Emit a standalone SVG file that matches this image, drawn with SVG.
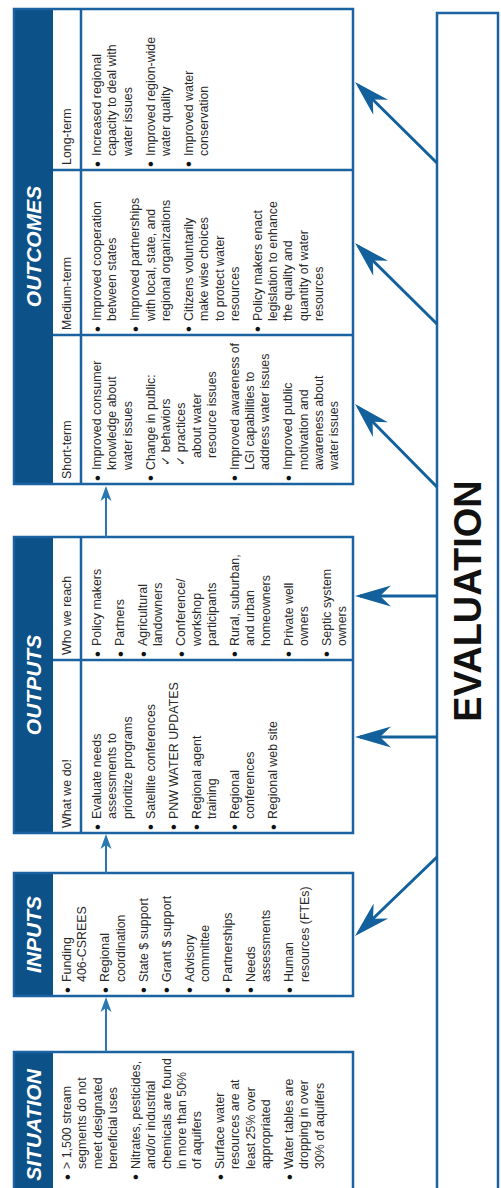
<svg xmlns="http://www.w3.org/2000/svg" width="501" height="1188" viewBox="0 0 501 1188">
<style>
.bg{fill:#fff;stroke:none}
.box{fill:none;stroke:#1a62a0;stroke-width:2.5}
.band{fill:#0d5189;stroke:none}
.dv{stroke:#1a62a0;stroke-width:2.5;fill:none}
.t{font-family:"Liberation Sans",Arial,"DejaVu Sans",sans-serif;font-size:12.4px;fill:#2a2a2a}
.b{font-size:17px;fill:#111}
.h{font-family:"Liberation Sans",Arial,sans-serif;font-size:21px;font-weight:bold;font-style:italic;fill:#fff}
.ev{font-family:"Liberation Sans",Arial,sans-serif;font-size:38px;font-weight:bold;fill:#111}
.big{stroke:#12609c;stroke-width:3;fill:none}
.sm{stroke:#2a78b0;stroke-width:2;fill:none}
</style>
<defs>
<marker id="ab" viewBox="-40 -12 42 24" refX="-5" refY="0" markerWidth="42" markerHeight="24" markerUnits="userSpaceOnUse" orient="auto"><path d="M0,0 L-36,-10.5 L-25,0 L-36,10.5 Z" fill="#12609c"/></marker>
<marker id="as" viewBox="-16 -6 18 12" refX="-3" refY="0" markerWidth="18" markerHeight="12" markerUnits="userSpaceOnUse" orient="auto"><path d="M0,0 L-15,-5.5 L-11,0 L-15,5.5 Z" fill="#2a78b0"/></marker>
</defs>
<rect width="501" height="1188" fill="#fff"/>

<g id="situation">
<rect class="bg" x="14" y="1052" width="339" height="146"/>
<rect class="band" x="14" y="1052" width="39" height="146"/>
<rect class="box" x="14" y="1052" width="339" height="146"/>
<g transform="translate(0,1183) rotate(-90)">
<text class="h" x="58" y="41" text-anchor="middle">SITUATION</text>
<g class="t">
<text class="b" x="3" y="72.5">•</text><text x="14" y="71">&gt; 1,500 stream</text>
<text x="14" y="86.3">segments do not</text>
<text x="14" y="101.6">meet designated</text>
<text x="14" y="116.9">beneficial uses</text>
<text class="b" x="3" y="141.4">•</text><text x="14" y="139.9">Nitrates, pesticides,</text>
<text x="14" y="155.2">and/or industrial</text>
<text x="14" y="170.5">chemicals are found</text>
<text x="14" y="185.8">in more than 50%</text>
<text x="14" y="201.1">of aquifers</text>
<text class="b" x="3" y="225.6">•</text><text x="14" y="224.1">Surface water</text>
<text x="14" y="239.4">resources are at</text>
<text x="14" y="254.7">least 25% over</text>
<text x="14" y="270">appropriated</text>
<text class="b" x="3" y="294.5">•</text><text x="14" y="293">Water tables are</text>
<text x="14" y="308.3">dropping in over</text>
<text x="14" y="323.6">30% of aquifers</text>
</g>
</g>
</g>

<g id="inputs">
<rect class="bg" x="14" y="873" width="339" height="123"/>
<rect class="band" x="14" y="873" width="39" height="123"/>
<rect class="box" x="14" y="873" width="339" height="123"/>
<g transform="translate(0,996) rotate(-90)">
<text class="h" x="61.5" y="41" text-anchor="middle">INPUTS</text>
<g class="t">
<text class="b" x="3" y="72.5">•</text><text x="14" y="71">Funding</text>
<text x="14" y="86.3">406-CSREES</text>
<text class="b" x="3" y="110.8">•</text><text x="14" y="109.3">Regional</text>
<text x="14" y="124.6">coordination</text>
<text class="b" x="3" y="149.1">•</text><text x="14" y="147.6">State $ support</text>
<text class="b" x="3" y="172.1">•</text><text x="14" y="170.6">Grant $ support</text>
<text class="b" x="3" y="195.1">•</text><text x="14" y="193.6">Advisory</text>
<text x="14" y="208.9">committee</text>
<text class="b" x="3" y="233.4">•</text><text x="14" y="231.9">Partnerships</text>
<text class="b" x="3" y="256.4">•</text><text x="14" y="254.9">Needs</text>
<text x="14" y="270.2">assessments</text>
<text class="b" x="3" y="294.7">•</text><text x="14" y="293.2">Human</text>
<text x="14" y="308.5">resources (FTEs)</text>
</g>
</g>
</g>

<g id="outputs">
<rect class="bg" x="14" y="537" width="339" height="296"/>
<rect class="band" x="14" y="537" width="39" height="296"/>
<line class="dv" x1="81" y1="537" x2="81" y2="833"/>
<line class="dv" x1="53" y1="660" x2="353" y2="660"/>
<rect class="box" x="14" y="537" width="339" height="296"/>
<g transform="translate(0,833) rotate(-90)">
<text class="h" x="148" y="41" text-anchor="middle">OUTPUTS</text>
<g class="t">
<text x="5" y="71">What we do!</text>
<text class="b" x="3" y="102.5">•</text><text x="14" y="101">Evaluate needs</text>
<text x="14" y="116.3">assessments to</text>
<text x="14" y="131.6">prioritize programs</text>
<text class="b" x="3" y="156.1">•</text><text x="14" y="154.6">Satellite conferences</text>
<text class="b" x="3" y="179.1">•</text><text x="14" y="177.6">PNW WATER UPDATES</text>
<text class="b" x="3" y="202.1">•</text><text x="14" y="200.6">Regional agent</text>
<text x="14" y="215.9">training</text>
<text class="b" x="3" y="240.4">•</text><text x="14" y="238.9">Regional</text>
<text x="14" y="254.2">conferences</text>
<text class="b" x="3" y="278.7">•</text><text x="14" y="277.2">Regional web site</text>
</g>
</g>
<g class="t" transform="translate(0,660) rotate(-90)">
<text x="5" y="71">Who we reach</text>
<text class="b" x="3" y="102.5">•</text><text x="14" y="101">Policy makers</text>
<text class="b" x="3" y="125.5">•</text><text x="14" y="124">Partners</text>
<text class="b" x="3" y="148.5">•</text><text x="14" y="147">Agricultural</text>
<text x="14" y="162.3">landowners</text>
<text class="b" x="3" y="186.8">•</text><text x="14" y="185.3">Conference/</text>
<text x="14" y="200.6">workshop</text>
<text x="14" y="215.9">participants</text>
<text class="b" x="3" y="240.4">•</text><text x="14" y="238.9">Rural, suburban,</text>
<text x="14" y="254.2">and urban</text>
<text x="14" y="269.5">homeowners</text>
<text class="b" x="3" y="294">•</text><text x="14" y="292.5">Private well</text>
<text x="14" y="307.8">owners</text>
<text class="b" x="3" y="332.3">•</text><text x="14" y="330.8">Septic system</text>
<text x="14" y="346.1">owners</text>
</g>
</g>

<g id="outcomes">
<rect class="bg" x="14" y="9" width="339" height="475"/>
<rect class="band" x="14" y="9" width="39" height="475"/>
<line class="dv" x1="81" y1="9" x2="81" y2="484"/>
<line class="dv" x1="53" y1="170" x2="353" y2="170"/>
<line class="dv" x1="53" y1="335" x2="353" y2="335"/>
<rect class="box" x="14" y="9" width="339" height="475"/>
<g transform="translate(0,484) rotate(-90)">
<text class="h" x="237.5" y="41" text-anchor="middle">OUTCOMES</text>
<g class="t">
<text x="5" y="71">Short-term</text>
<text class="b" x="3" y="102.5">•</text><text x="14" y="101">Improved consumer</text>
<text x="14" y="116.3">knowledge about</text>
<text x="14" y="131.6">water issues</text>
<text class="b" x="3" y="156.1">•</text><text x="14" y="154.6">Change in public:</text>
<text x="18" y="169.9">✓ behaviors</text>
<text x="18" y="185.2">✓ practices</text>
<text x="26" y="200.5">about water</text>
<text x="26" y="215.8">resource issues</text>
<text class="b" x="3" y="240.3">•</text><text x="14" y="238.8" textLength="127" lengthAdjust="spacingAndGlyphs">Improved awareness of</text>
<text x="14" y="254.1">LGI capabilities to</text>
<text x="14" y="269.4">address water issues</text>
<text class="b" x="3" y="293.9">•</text><text x="14" y="292.4">Improved public</text>
<text x="14" y="307.7">motivation and</text>
<text x="14" y="323">awareness about</text>
<text x="14" y="338.3">water issues</text>
</g>
</g>
<g class="t" transform="translate(0,335) rotate(-90)">
<text x="5" y="71">Medium-term</text>
<text class="b" x="3" y="102.5">•</text><text x="14" y="101">Improved cooperation</text>
<text x="14" y="116.3">between states</text>
<text class="b" x="3" y="140.8">•</text><text x="14" y="139.3">Improved partnerships</text>
<text x="14" y="154.6">with local, state, and</text>
<text x="14" y="169.9">regional organizations</text>
<text class="b" x="3" y="194.4">•</text><text x="14" y="192.9">Citizens voluntarily</text>
<text x="14" y="208.2">make wise choices</text>
<text x="14" y="223.5">to protect water</text>
<text x="14" y="238.8">resources</text>
<text class="b" x="3" y="263.3">•</text><text x="14" y="261.8">Policy makers enact</text>
<text x="14" y="277.1">legislation to enhance</text>
<text x="14" y="292.4">the quality and</text>
<text x="14" y="307.7">quantity of water</text>
<text x="14" y="323">resources</text>
</g>
<g class="t" transform="translate(0,170) rotate(-90)">
<text x="5" y="71">Long-term</text>
<text class="b" x="3" y="102.5">•</text><text x="14" y="101">Increased regional</text>
<text x="14" y="116.3">capacity to deal with</text>
<text x="14" y="131.6">water issues</text>
<text class="b" x="3" y="156.1">•</text><text x="14" y="154.6">Improved region-wide</text>
<text x="14" y="169.9">water quality</text>
<text class="b" x="3" y="194.4">•</text><text x="14" y="192.9">Improved water</text>
<text x="14" y="208.2">conservation</text>
</g>
</g>

<g id="evaluation">
<rect x="437" y="13" width="61" height="1190" fill="#fff" stroke="#1a62a0" stroke-width="2.5"/>
<text class="ev" transform="translate(467,601) rotate(-90)" x="0" y="13.5" text-anchor="middle">EVALUATION</text>
</g>

<g id="connectors">
<path class="sm" d="M106,1052 L106,1000" marker-end="url(#as)"/>
<path class="sm" d="M106,873 L106,837" marker-end="url(#as)"/>
<path class="sm" d="M106,537 L106,489" marker-end="url(#as)"/>
<path class="big" d="M437,163 L358.6,85.5" marker-end="url(#ab)"/>
<path class="big" d="M437,324 L358.6,246.5" marker-end="url(#ab)"/>
<path class="big" d="M437,487 L358.6,407.5" marker-end="url(#ab)"/>
<path class="big" d="M437,596 L360,596" marker-end="url(#ab)"/>
<path class="big" d="M437,737 L360,737" marker-end="url(#ab)"/>
<path class="big" d="M437,857 L358.6,932.5" marker-end="url(#ab)"/>
</g>
</svg>
